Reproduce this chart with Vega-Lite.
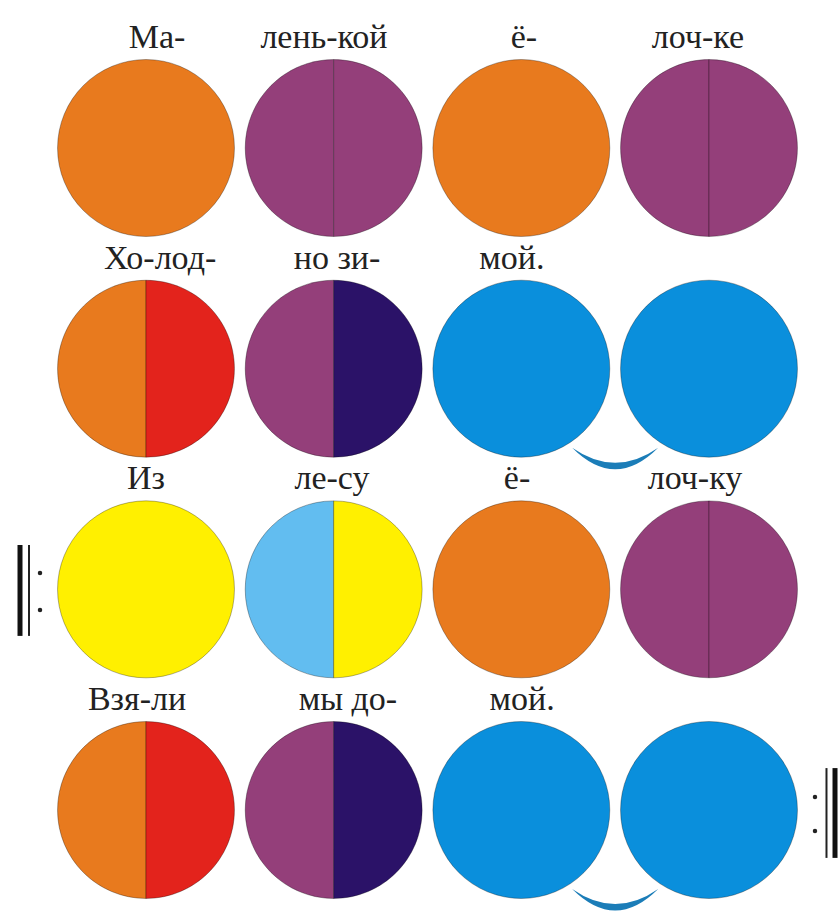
{
  "$schema": "https://vega.github.io/schema/vega-lite/v6.json",
  "width": 840,
  "height": 913,
  "padding": 0,
  "autosize": {"type": "fit", "contains": "padding"},
  "background": "white",
  "config": {"view": {"stroke": null}},
  "datasets": {
    "notes": [
      {"row": 1, "col": 1, "part": "full", "note": "orange"},
      {"row": 1, "col": 2, "part": "left", "note": "purple"},
      {"row": 1, "col": 2, "part": "right", "note": "purple"},
      {"row": 1, "col": 3, "part": "full", "note": "orange"},
      {"row": 1, "col": 4, "part": "left", "note": "purple"},
      {"row": 1, "col": 4, "part": "right", "note": "purple"},
      {"row": 2, "col": 1, "part": "left", "note": "orange"},
      {"row": 2, "col": 1, "part": "right", "note": "red"},
      {"row": 2, "col": 2, "part": "left", "note": "purple"},
      {"row": 2, "col": 2, "part": "right", "note": "indigo"},
      {"row": 2, "col": 3, "part": "full", "note": "blue"},
      {"row": 2, "col": 4, "part": "full", "note": "blue"},
      {"row": 3, "col": 1, "part": "full", "note": "yellow"},
      {"row": 3, "col": 2, "part": "left", "note": "lightblue"},
      {"row": 3, "col": 2, "part": "right", "note": "yellow"},
      {"row": 3, "col": 3, "part": "full", "note": "orange"},
      {"row": 3, "col": 4, "part": "left", "note": "purple"},
      {"row": 3, "col": 4, "part": "right", "note": "purple"},
      {"row": 4, "col": 1, "part": "left", "note": "orange"},
      {"row": 4, "col": 1, "part": "right", "note": "red"},
      {"row": 4, "col": 2, "part": "left", "note": "purple"},
      {"row": 4, "col": 2, "part": "right", "note": "indigo"},
      {"row": 4, "col": 3, "part": "full", "note": "blue"},
      {"row": 4, "col": 4, "part": "full", "note": "blue"}
    ],
    "labels": [
      {"row": 1, "lx": 1.059, "text": "Ма-"},
      {"row": 1, "lx": 1.948, "text": "лень-кой"},
      {"row": 1, "lx": 3.014, "text": "ё-"},
      {"row": 1, "lx": 3.941, "text": "лоч-ке"},
      {"row": 2, "lx": 1.075, "text": "Хо-лод-"},
      {"row": 2, "lx": 2.018, "text": "но  зи-"},
      {"row": 2, "lx": 2.95, "text": "мой."},
      {"row": 3, "lx": 1.0, "text": "Из"},
      {"row": 3, "lx": 1.991, "text": "ле-су"},
      {"row": 3, "lx": 2.977, "text": "ё-"},
      {"row": 3, "lx": 3.925, "text": "лоч-ку"},
      {"row": 4, "lx": 0.952, "text": "Взя-ли"},
      {"row": 4, "lx": 2.076, "text": "мы  до-"},
      {"row": 4, "lx": 3.004, "text": "мой."}
    ],
    "ties": [
      {"row": 2, "col": 3.5},
      {"row": 4, "col": 3.5}
    ],
    "bars": [
      {"sign": "start", "part": "thick", "x": 0.3286, "top": 2.799, "bottom": 3.211},
      {"sign": "start", "part": "thin", "x": 0.3766, "top": 2.799, "bottom": 3.211},
      {"sign": "end", "part": "thin", "x": 4.626, "top": 3.81, "bottom": 4.217},
      {"sign": "end", "part": "thick", "x": 4.6714, "top": 3.81, "bottom": 4.217}
    ],
    "dots": [
      {"sign": "start", "x": 0.4352, "y": 2.926},
      {"sign": "start", "x": 0.4352, "y": 3.094},
      {"sign": "end", "x": 4.5647, "y": 3.941},
      {"sign": "end", "x": 4.5647, "y": 4.095}
    ]
  },
  "layer": [
    {
      "data": {"name": "notes"},
      "mark": {"type": "point", "filled": true, "opacity": 1, "size": 31300, "stroke": "#000", "strokeOpacity": 0.3, "strokeWidth": 1},
      "encoding": {
        "x": {"field": "col", "type": "quantitative", "scale": {"domain": [0.222, 4.698], "nice": false, "zero": false}, "axis": null},
        "y": {"field": "row", "type": "quantitative", "scale": {"domain": [0.3293, 4.4667], "nice": false, "zero": false, "reverse": true}, "axis": null},
        "color": {"field": "note", "type": "nominal", "legend": null,
          "scale": {"domain": ["orange", "purple", "red", "indigo", "blue", "yellow", "lightblue"],
                    "range": ["#E87A1E", "#943F7A", "#E3231C", "#2B1268", "#0A8FDC", "#FFF000", "#62BDF0"]}},
        "shape": {"field": "part", "type": "nominal", "legend": null,
          "scale": {"domain": ["full", "left", "right"],
                    "range": ["circle", "M0,-1 A1,1 0 0,0 0,1 Z", "M0,-1 A1,1 0 0,1 0,1 Z"]}}
      }
    },
    {
      "data": {"name": "ties"},
      "mark": {"type": "point", "filled": true, "opacity": 1, "size": 7396, "color": "#1B7DB8", "yOffset": 79,
               "shape": "M-1,0 Q0,1.0 1,0 Q0,0.7 -1,0 Z"},
      "encoding": {
        "x": {"field": "col", "type": "quantitative", "axis": null},
        "y": {"field": "row", "type": "quantitative", "axis": null}
      }
    },
    {
      "data": {"name": "labels"},
      "mark": {"type": "text", "font": "Times New Roman", "fontSize": 34, "baseline": "alphabetic", "align": "center", "dy": -100, "color": "#222222"},
      "encoding": {
        "x": {"field": "lx", "type": "quantitative", "axis": null},
        "y": {"field": "row", "type": "quantitative", "axis": null},
        "text": {"field": "text", "type": "nominal"}
      }
    },
    {
      "data": {"name": "bars"},
      "transform": [{"filter": "datum.part == 'thick'"}],
      "mark": {"type": "rule", "strokeWidth": 5, "color": "#111111"},
      "encoding": {
        "x": {"field": "x", "type": "quantitative", "axis": null},
        "y": {"field": "top", "type": "quantitative", "axis": null},
        "y2": {"field": "bottom"}
      }
    },
    {
      "data": {"name": "bars"},
      "transform": [{"filter": "datum.part == 'thin'"}],
      "mark": {"type": "rule", "strokeWidth": 2, "color": "#222222"},
      "encoding": {
        "x": {"field": "x", "type": "quantitative", "axis": null},
        "y": {"field": "top", "type": "quantitative", "axis": null},
        "y2": {"field": "bottom"}
      }
    },
    {
      "data": {"name": "dots"},
      "mark": {"type": "point", "filled": true, "opacity": 1, "size": 20, "shape": "circle", "color": "#222222"},
      "encoding": {
        "x": {"field": "x", "type": "quantitative", "axis": null},
        "y": {"field": "y", "type": "quantitative", "axis": null}
      }
    }
  ]
}
